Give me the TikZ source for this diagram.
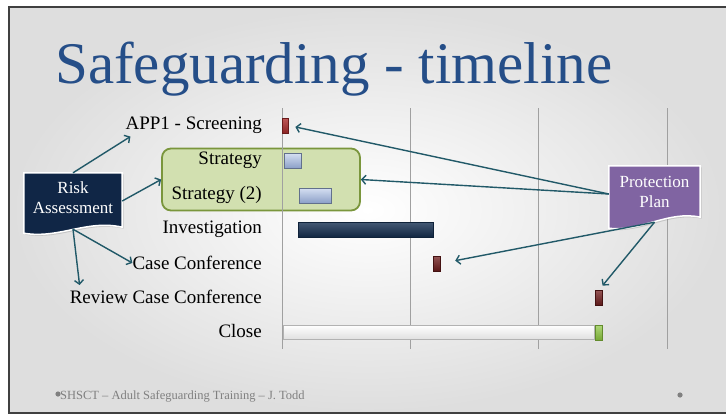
\documentclass[tikz,border=0pt]{standalone}
\usepackage{fontspec}
\setmainfont{Liberation Serif}
\usepackage{tikz}
\usetikzlibrary{arrows.meta,positioning,calc,shadows}

\definecolor{titleblue}{RGB}{37,78,136}
\definecolor{arrteal}{RGB}{33,89,104}
\definecolor{rafill}{RGB}{16,38,70}
\definecolor{ppfill}{RGB}{128,100,162}
\definecolor{grnfill}{RGB}{210,224,176}
\definecolor{grndraw}{RGB}{122,150,60}
\definecolor{gridgrey}{RGB}{160,160,160}
\definecolor{footgrey}{RGB}{128,128,128}
\definecolor{barred}{RGB}{175,45,45}
\definecolor{bardkred}{RGB}{112,28,28}
\definecolor{barblueA}{RGB}{214,224,242}
\definecolor{barblueB}{RGB}{140,160,200}
\definecolor{barnavy}{RGB}{22,48,82}
\definecolor{bargreen}{RGB}{140,198,63}

\begin{document}
\begin{tikzpicture}[
  x=1pt, y=-1pt,
  lbl/.style   ={anchor=east, inner sep=0pt, font=\fontsize{19}{21}\selectfont},
  bar/.style   ={anchor=west, inner sep=0pt, minimum height=15pt, line width=0.5pt},
  redbar/.style={bar, draw=barred!60!black, top color=barred!80!white, bottom color=barred!80!black, minimum width=6pt},
  dkbar/.style ={bar, draw=bardkred!60!black, top color=bardkred!75!white, bottom color=bardkred!80!black, minimum width=7pt},
  blubar/.style={bar, draw=barblueB!70!black, top color=barblueA, bottom color=barblueB},
  navbar/.style={bar, draw=barnavy!70!black, top color=barnavy!80!white, bottom color=barnavy!80!black},
  grnbox/.style={draw=grndraw, fill=grnfill, line width=1.8pt, rounded corners=9pt, inner sep=0pt},
  docshape/.style={inner sep=0pt},
  doctext/.style ={text=white, align=center, inner sep=0pt, font=\fontsize{17}{20}\selectfont},
  docfill/.style ={draw=white, line width=1.5pt, drop shadow={shadow xshift=1.5pt, shadow yshift=-1.5pt, opacity=0.3}},
  conn/.style  ={draw=arrteal, line width=1.4pt, -{Straight Barb[length=4pt,width=9pt]}},
  gridline/.style={draw=gridgrey, line width=0.8pt},
]
\useasboundingbox (0,0) rectangle (726,415);

% ======================= slide background =======================
\fill[white] (0,0) rectangle (726,415);
\shade[inner color=white, outer color=black!13] (9,7) rectangle (726,413);
\draw[black!75, line width=1.6pt] (726,7) -- (9,7) -- (9,413) -- (726,413);

\node[anchor=base west, inner sep=0pt, text=titleblue, font=\fontsize{59}{63}\selectfont] (title) at (55,83) {Safeguarding - timeline};

% ======================= timeline =======================
\node[grnbox, minimum width=198pt, minimum height=62pt] (strat) at (261,179.5) {};

\foreach \gx in {282,410,538,667}
  \draw[gridline] (\gx,108) -- (\gx,349);

\node[redbar]                       (bapp) at (282,125.5) {};
\node[blubar, minimum width=17pt]   (bst1) at (284,160.5) {};
\node[blubar, minimum width=32pt]   (bst2) at (299,195.5) {};
\node[navbar, minimum width=135pt]  (binv) at (298,229.5) {};
\node[dkbar]                        (bcc)  at (433,263.5) {};
\node[dkbar]                        (brev) at (595,298)   {};
\node[bar, draw=black!30, top color=white, bottom color=black!12, minimum width=311pt, minimum height=14pt] (bclo) at (283,332) {};
\node[bar, draw=bargreen!70!black, top color=bargreen!70!white, bottom color=bargreen!85!black, minimum width=7pt] (bend) at (595,332.5) {};

\node[lbl] (l1) at (262,125) {APP1 - Screening};
\node[lbl] (l2) at (262,160) {Strategy};
\node[lbl] (l3) at (262,195) {Strategy (2)};
\node[lbl] (l4) at (262,229) {Investigation};
\node[lbl] (l5) at (262,263) {Case Conference};
\node[lbl] (l6) at (262,297) {Review Case Conference};
\node[lbl] (l7) at (262,331) {Close};

% ======================= call-outs =======================
\node[docshape, minimum width=98pt, minimum height=56pt] (ra) at (73,201) {};
\fill[rafill, docfill] (ra.north west) -- (ra.north east) -- ($(ra.south east)+(0,-2)$)
  .. controls ($(ra.south)+(14,-10)$) and ($(ra.south)+(-14,10)$) .. ($(ra.south west)+(0,4)$) -- cycle;
\node[doctext] (ratxt) at (73,198) {Risk\\Assessment};

\node[docshape, minimum width=91pt, minimum height=56pt] (pp) at (654.5,194) {};
\fill[ppfill, docfill] (pp.north west) -- (pp.north east) -- ($(pp.south east)+(0,-5)$)
  .. controls ($(pp.south)+(14,-12)$) and ($(pp.south)+(-14,10)$) .. ($(pp.south west)+(0,6)$) -- cycle;
\node[doctext] (pptxt) at (654.5,191.5) {Protection\\Plan};

% risk assessment feeds
\draw[conn] (ra.north) -- ($(l1.south west)+(5,3)$);
\draw[conn] (ra.east) -- (strat.west);
\draw[conn] (ra.south) -- (l5.west);
\draw[conn] (ra.south) -- ($(l6.north west)+(10,-5)$);
% protection plan feeds
\draw[conn, shorten >=7pt]  (pp.west) -- (bapp.east);
\draw[conn]                 (pp.west) -- (strat.east);
\draw[conn, shorten >=15pt] (pp.south) -- (bcc.east);
\draw[conn, shorten >=6pt]  (pp.south) -- (brev.north);

% ======================= footer =======================
\node[anchor=base west, inner sep=0pt, text=footgrey, font=\fontsize{12.5}{14}\selectfont] (foot) at (60,399) {SHSCT – Adult Safeguarding Training – J. Todd};
\fill[footgrey] (58,394) circle (2.6);
\fill[footgrey] (680,395) circle (2.6);
\end{tikzpicture}
\end{document}
